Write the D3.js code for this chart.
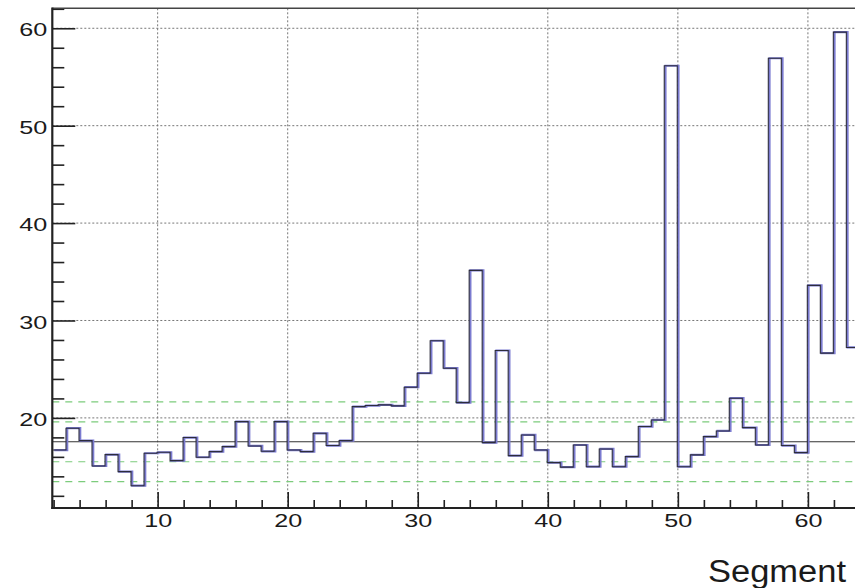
<!DOCTYPE html>
<html>
<head>
<meta charset="utf-8">
<script src="https://cdn.jsdelivr.net/npm/d3@7"></script>
<style>
html,body{margin:0;padding:0;background:#fff;}
svg{display:block;}
text{font-family:"Liberation Sans",Arial,Helvetica,sans-serif;fill:#1a1a1a;}
</style>
</head>
<body>
<svg id="chart" width="855" height="588"></svg>
<script>
// ---- data ----
const binStarts = [2,3,4,5,6,7,8,9,10,11,12,13,14,15,16,17,18,19,20,21,22,23,24,25,26,27,28,29,30,31,32,33,34,35,36,37,38,39,40,41,42,43,44,45,46,47,48,49,50,51,52,53,54,55,56,57,58,59,60,61,62,63];
const binValues = [16.7,18.94,17.67,15.06,16.23,14.48,13.04,16.37,16.47,15.61,17.98,15.96,16.54,17.05,19.62,17.12,16.57,19.62,16.7,16.54,18.42,17.16,17.67,21.16,21.27,21.34,21.23,23.15,24.59,27.92,25.1,21.57,35.15,17.46,26.92,16.13,18.25,16.7,15.41,14.95,17.22,14.99,16.81,14.99,16.02,19.11,19.79,56.15,14.99,16.2,18.08,18.66,22.02,19.0,17.22,56.92,17.16,16.43,33.6,26.65,59.6,27.23];
const meanLine = [17.55];
const bandLines = [13.45, 15.5, 19.6, 21.65];
const xMajorTicks = [10,20,30,40,50,60];
const xMinorTicks = [2,4,6,8,12,14,16,18,22,24,26,28,32,34,36,38,42,44,46,48,52,54,56,58,62];
const yMajorTicks = [20,30,40,50,60];
const yMinorTicks = [12,14,16,18,22,24,26,28,32,34,36,38,42,44,46,48,52,54,56,58,62];
const xTitle = "Segment";

// ---- layout ----
const L = 52.3, R = 855, T = 8.3, B = 508;
const x = d3.scaleLinear().domain([1.9, 63.62]).range([L, R]);
const y = d3.scaleLinear().domain([10.75, 62.05]).range([B, T]);

const svg = d3.select("#chart");
svg.append("defs").append("clipPath").attr("id","plot")
  .append("rect").attr("x",L).attr("y",T).attr("width",R-L).attr("height",B-T);

const g = svg.append("g").attr("clip-path","url(#plot)");

// grid
g.selectAll(".vgrid").data(xMajorTicks).join("line")
  .attr("x1",d=>x(d)).attr("x2",d=>x(d)).attr("y1",T).attr("y2",B)
  .attr("stroke","#777").attr("stroke-width",1).attr("stroke-dasharray","2,2");
g.selectAll(".hgrid").data(yMajorTicks).join("line")
  .attr("x1",L).attr("x2",R).attr("y1",d=>y(d)).attr("y2",d=>y(d))
  .attr("stroke","#777").attr("stroke-width",1).attr("stroke-dasharray","2,2");

// bands
g.selectAll(".band").data(bandLines).join("line")
  .attr("x1",L).attr("x2",R).attr("y1",d=>y(d)).attr("y2",d=>y(d))
  .attr("stroke","#7ccc7c").attr("stroke-width",1.2).attr("stroke-dasharray","7,6");
// mean
g.selectAll(".mean").data(meanLine).join("line")
  .attr("x1",L).attr("x2",R).attr("y1",d=>y(d)).attr("y2",d=>y(d))
  .attr("stroke","#333").attr("stroke-width",1.1);

// histogram
const pts = binStarts.map((b,i)=>[b, binValues[i]]);
pts.push([binStarts[binStarts.length-1]+1, binValues[binValues.length-1]]);
const line = d3.line().x(d=>x(d[0])).y(d=>y(d[1])).curve(d3.curveStepAfter);
g.append("path").attr("d",line(pts)).attr("fill","none")
  .attr("stroke","#7b7bd0").attr("stroke-width",2.2).attr("transform","translate(0.6,0)");
g.append("path").attr("d",line(pts)).attr("fill","none")
  .attr("stroke","#2c2c3c").attr("stroke-width",1.1).attr("transform","translate(-0.6,0)");

// axes
const ax = svg.append("g");
const yMaj = ax.append("g").attr("transform",`translate(${L},0)`)
  .call(d3.axisLeft(y).tickValues(yMajorTicks).tickSize(-23).tickPadding(5).tickFormat(d3.format("d")));
const yMin = ax.append("g").attr("transform",`translate(${L},0)`)
  .call(d3.axisLeft(y).tickValues(yMinorTicks).tickSize(-12).tickFormat(""));
const xMaj = ax.append("g").attr("transform",`translate(0,${B})`)
  .call(d3.axisBottom(x).tickValues(xMajorTicks).tickSize(-16).tickPadding(6).tickFormat(d3.format("d")));
const xMin = ax.append("g").attr("transform",`translate(0,${B})`)
  .call(d3.axisBottom(x).tickValues(xMinorTicks).tickSize(-8).tickFormat(""));
ax.selectAll(".domain").remove();
ax.selectAll(".tick line").attr("stroke","#222").attr("stroke-width",1.6);
ax.selectAll(".tick text").attr("font-size",19).attr("fill","#1a1a1a")
  .attr("textLength",28).attr("lengthAdjust","spacingAndGlyphs")
  .style("font-family","'Liberation Sans',Arial,sans-serif");
yMaj.selectAll(".tick text").attr("dy","0.4em");

// frame / axis lines
svg.append("line").attr("x1",L).attr("x2",R).attr("y1",T).attr("y2",T).attr("stroke","#444").attr("stroke-width",1.6);
svg.append("line").attr("x1",L).attr("x2",L).attr("y1",T-0.8).attr("y2",B+1).attr("stroke","#222").attr("stroke-width",2.2);
svg.append("line").attr("x1",L-1).attr("x2",R).attr("y1",B).attr("y2",B).attr("stroke","#222").attr("stroke-width",2.2);

// title
svg.append("text").attr("x",846).attr("y",581.5).attr("text-anchor","end")
  .attr("font-size",31).attr("textLength",138).attr("lengthAdjust","spacingAndGlyphs").text(xTitle);
</script>
</body>
</html>
